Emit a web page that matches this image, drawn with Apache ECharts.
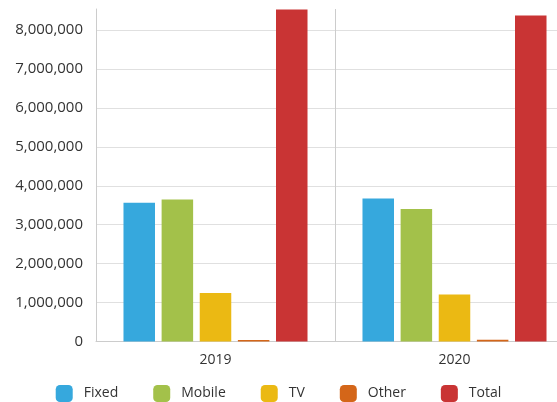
<!DOCTYPE html>
<html>
<head>
<meta charset="utf-8">
<script src="https://cdn.jsdelivr.net/npm/echarts@6/dist/echarts.min.js"></script>
<style>
html,body{margin:0;padding:0;background:#fff;}
#chart{width:557px;height:402px;}
</style>
</head>
<body>
<div id="chart"></div>
<script>
var years = ['2019', '2020'];
var seriesNames = ['Fixed', 'Mobile', 'TV', 'Other', 'Total'];
var fixedData = [3565000, 3670000];
var mobileData = [3650000, 3400000];
var tvData = [1245000, 1210000];
var otherData = [40000, 45000];
var totalData = [8530000, 8370000];
var yTicks = [0, 1000000, 2000000, 3000000, 4000000, 5000000, 6000000, 7000000, 8000000];
var colors = ['#36a8dd', '#a3c14a', '#ebb913', '#d46619', '#c93434'];

var allData = [fixedData, mobileData, tvData, otherData, totalData];

var myChart = echarts.init(document.getElementById('chart'));

var series = [];
for (var i = 0; i < seriesNames.length; i++) {
	series.push({
		name: seriesNames[i],
		type: 'bar',
		data: allData[i],
		barGap: '21%',
		barCategoryGap: '23%',
		itemStyle: { color: colors[i] }
	});
}

var option = {
	animation: false,
	textStyle: { fontFamily: 'Open Sans' },
	color: colors,
	// plot runs past the right edge of the window, as in the reference
	grid: {
		left: 96,
		width: 478,
		top: 9,
		height: 332.5,
		outerBoundsMode: 'none'
	},
	legend: {
		data: seriesNames,
		top: 380,
		left: 'center',
		icon: 'roundRect',
		itemWidth: 17,
		itemHeight: 17,
		itemGap: 35,
		textStyle: { fontSize: 14, color: '#333', padding: [0, 0, 0, 6] }
	},
	xAxis: {
		type: 'category',
		data: years,
		axisTick: { show: false },
		axisLine: { lineStyle: { color: '#ccc' } },
		axisLabel: { fontSize: 14, color: '#333', margin: 12 },
		splitLine: { show: true, lineStyle: { color: '#ccc' } }
	},
	yAxis: {
		type: 'value',
		min: 0,
		max: 8540000,
		axisLine: { show: true, lineStyle: { color: '#ccc' } },
		axisTick: { show: false, customValues: yTicks },
		axisLabel: {
			fontSize: 15,
			color: '#333',
			margin: 13,
			customValues: yTicks,
			formatter: function (v) { return v.toLocaleString('en-US'); }
		},
		splitLine: { lineStyle: { color: '#e0e0e0' } }
	},
	series: series
};

myChart.setOption(option);
</script>
</body>
</html>
